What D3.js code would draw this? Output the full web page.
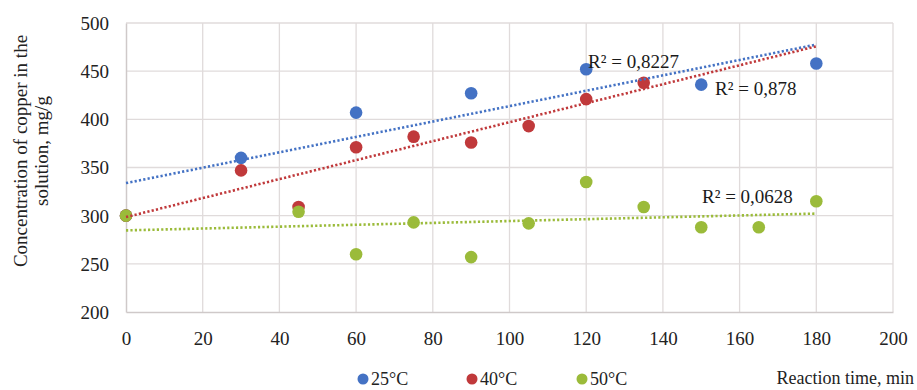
<!DOCTYPE html>
<html>
<head>
<meta charset="utf-8">
<script src="https://cdn.jsdelivr.net/npm/d3@7"></script>
<style>
  html, body { margin: 0; padding: 0; background: #fff; }
  svg { display: block; font-family: "Liberation Serif", "Times New Roman", serif; }
</style>
</head>
<body>
<svg id="chart" width="917" height="390"></svg>
<script>
// ---- data ----
const seriesNames = ["25°C", "40°C", "50°C"];
const time25 = [0, 30, 60, 90, 120, 150, 180];
const conc25 = [300, 360, 407, 427, 452, 436, 458];
const time40 = [0, 30, 45, 60, 75, 90, 105, 120, 135];
const conc40 = [300, 347, 309, 371, 382, 376, 393, 421, 438];
const time50 = [0, 45, 60, 75, 90, 105, 120, 135, 150, 165, 180];
const conc50 = [300, 304, 260, 293, 257, 292, 335, 309, 288, 288, 315];
const r2Labels = ["R² = 0,8227", "R² = 0,878", "R² = 0,0628"];
const xTicks = [0, 20, 40, 60, 80, 100, 120, 140, 160, 180, 200];
const yTicks = [200, 250, 300, 350, 400, 450, 500];
const trendRange = [0, 180];
const yTitleLines = ["Concentration of copper in the", "solution, mg/g"];
const xTitle = "Reaction time, min";

// ---- layout ----
const W = 917, H = 390;
const margin = { left: 126, right: 24, top: 23, bottom: 78 };
const colors = ["#4472c4", "#c0393b", "#9bbb3a"];
const svg = d3.select("#chart");

const x = d3.scaleLinear().domain([0, 200]).range([margin.left, W - margin.right]);
const y = d3.scaleLinear().domain([200, 500]).range([H - margin.bottom, margin.top]);

const series = [
  { name: seriesNames[0], t: time25, v: conc25 },
  { name: seriesNames[1], t: time40, v: conc40 },
  { name: seriesNames[2], t: time50, v: conc50 }
];

// gridlines
const grid = svg.append("g");
grid.selectAll("line.v").data(xTicks.slice(1)).join("line")
  .attr("x1", d => x(d)).attr("x2", d => x(d))
  .attr("y1", y(500)).attr("y2", y(200))
  .attr("stroke", "#e0dbdb").attr("stroke-width", 1.3);
grid.selectAll("line.h").data(yTicks.slice(1)).join("line")
  .attr("x1", x(0)).attr("x2", x(200))
  .attr("y1", d => y(d)).attr("y2", d => y(d))
  .attr("stroke", "#e0dbdb").attr("stroke-width", 1.3);

// axes
const xAxis = svg.append("g").attr("transform", `translate(0,${y(200)})`)
  .call(d3.axisBottom(x).tickValues(xTicks).tickSize(0).tickPadding(20));
const yAxis = svg.append("g").attr("transform", `translate(${x(0)},0)`)
  .call(d3.axisLeft(y).tickValues(yTicks).tickSize(0).tickPadding(17));
[xAxis, yAxis].forEach(a => {
  a.select(".domain").attr("stroke", "#cfc9c9").attr("stroke-width", 1.5);
  a.selectAll("text").attr("font-size", 19).attr("fill", "#222")
    .attr("font-family", "Liberation Serif, Times New Roman, serif");
});
yAxis.selectAll("text").attr("dy", "0.34em");

// points
series.forEach((s, i) => {
  svg.append("g").selectAll("circle").data(s.t.map((t, j) => [t, s.v[j]])).join("circle")
    .attr("cx", d => x(d[0])).attr("cy", d => y(d[1])).attr("r", 6.3)
    .attr("fill", colors[i]);
});

// linear trendlines
series.forEach((s, i) => {
  const n = s.t.length;
  const mx = d3.mean(s.t), my = d3.mean(s.v);
  let sxy = 0, sxx = 0;
  for (let j = 0; j < n; j++) { sxy += (s.t[j] - mx) * (s.v[j] - my); sxx += (s.t[j] - mx) ** 2; }
  const b = sxy / sxx, a = my - b * mx;
  svg.append("line")
    .attr("x1", x(trendRange[0])).attr("y1", y(a + b * trendRange[0]))
    .attr("x2", x(trendRange[1])).attr("y2", y(a + b * trendRange[1]))
    .attr("stroke", colors[i]).attr("stroke-width", 2.6)
    .attr("stroke-dasharray", "2.2,2.2");
});

// R² labels (anchored in data space)
const r2Anchors = [[120.5, 453.5], [153.6, 425.3], [150.2, 313.1]];
svg.append("g").selectAll("text").data(r2Labels).join("text")
  .attr("x", (d, i) => x(r2Anchors[i][0])).attr("y", (d, i) => y(r2Anchors[i][1]))
  .attr("font-size", 19).attr("fill", "#1a1a1a").text(d => d);

// y title
const yt = svg.append("text").attr("transform", "translate(0,151) rotate(-90)")
  .attr("text-anchor", "middle").attr("font-size", 19).attr("fill", "#222");
yt.append("tspan").attr("x", 0).attr("y", 27).text(yTitleLines[0]);
yt.append("tspan").attr("x", 0).attr("y", 48).text(yTitleLines[1]);

// legend
const legX = [363, 472, 582];
const leg = svg.append("g");
series.forEach((s, i) => {
  leg.append("circle").attr("cx", legX[i]).attr("cy", 379).attr("r", 5.5).attr("fill", colors[i]);
  leg.append("text").attr("x", legX[i] + 8).attr("y", 385).attr("font-size", 18)
    .attr("fill", "#222").text(s.name);
});

// x title
svg.append("text").attr("x", 914).attr("y", 384).attr("text-anchor", "end")
  .attr("font-size", 18).attr("fill", "#222").text(xTitle);
</script>
</body>
</html>
